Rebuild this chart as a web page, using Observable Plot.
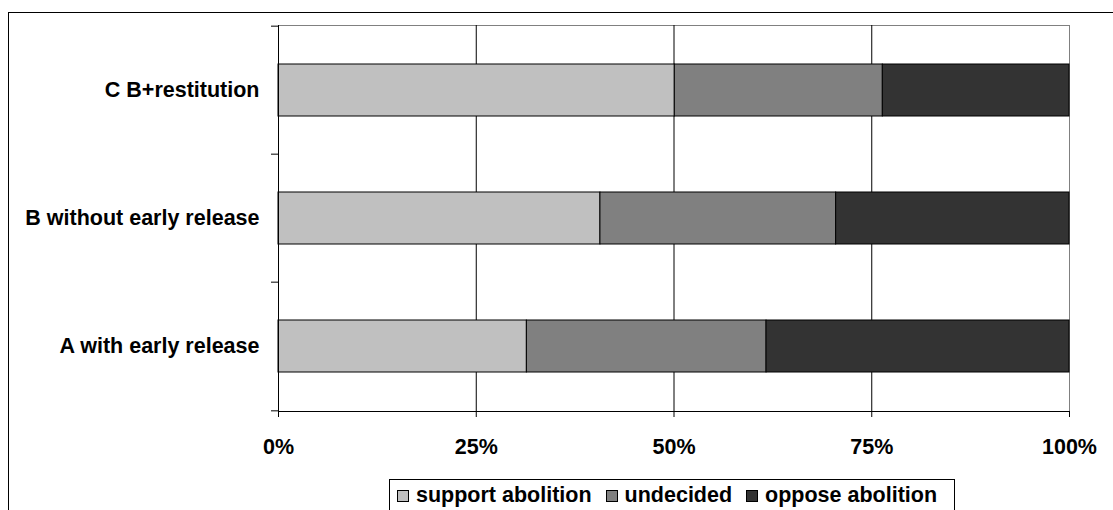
<!DOCTYPE html>
<html>
<head>
<meta charset="utf-8">
<script src="https://cdn.jsdelivr.net/npm/d3@7"></script>
<script src="https://cdn.jsdelivr.net/npm/@observablehq/plot@0.6"></script>
<style>
  html, body { margin: 0; padding: 0; background: #fff; }
  #stage {
    position: relative; width: 1113px; height: 510px; overflow: hidden;
    font-family: "Liberation Sans", Arial, sans-serif; font-weight: bold; color: #000;
  }
  #border {
    position: absolute; left: 8px; top: 12px; width: 1300px; height: 700px;
    border: 1px solid #000; box-sizing: border-box;
  }
  #chart { position: absolute; left: 0; top: 0; }
  #legend {
    position: absolute; left: 389px; top: 479px; width: 566px; height: 32px;
    border: 1px solid #000; box-sizing: border-box; background: #fff;
    display: flex; align-items: flex-start;
    padding: 3px 0 0 7px; font-size: 21.5px; line-height: 24px;
  }
  .item { display: flex; align-items: center; margin-right: 14px; white-space: nowrap; }
  .swatch {
    width: 12px; height: 12px; box-sizing: border-box; border: 1px solid #000;
    margin-right: 7px; position: relative; top: 1px;
  }
</style>
</head>
<body>
<div id="stage">
  <div id="border"></div>
  <div id="chart"></div>
  <div id="legend"></div>
</div>
<script>
// Survey options (top to bottom as drawn)
const categories = ["C B+restitution", "B without early release", "A with early release"];

// Response groups, left to right within each bar
const series = ["support abolition", "undecided", "oppose abolition"];
const seriesColors = ["#c0c0c0", "#808080", "#333333"];

// Share of respondents (%) per option
const support = [50.1, 40.7, 31.4];
const undecided = [26.3, 29.8, 30.3];
const oppose = [23.6, 29.5, 38.3];

const xTicks = [0, 25, 50, 75, 100];

const valuesBySeries = [support, undecided, oppose];
const rows = [];
categories.forEach((c, i) => {
  series.forEach((s, j) => rows.push({category: c, series: s, value: valuesBySeries[j][i]}));
});

const width = 1113, height = 510;
const margin = {top: 25, right: 44, bottom: 99, left: 278};
const step = (height - margin.top - margin.bottom) / categories.length;

const chart = Plot.plot({
  width, height,
  marginTop: margin.top, marginRight: margin.right,
  marginBottom: margin.bottom, marginLeft: margin.left,
  style: {
    fontFamily: "'Liberation Sans', Arial, sans-serif",
    fontSize: "21.5px", fontWeight: "bold", color: "#000",
    background: "transparent", overflow: "visible"
  },
  x: {domain: [0, 100], ticks: xTicks, tickFormat: d => d + "%"},
  y: {domain: categories, paddingInner: 0.59, paddingOuter: 0.295},
  color: {domain: series, range: seriesColors},
  marks: [
    Plot.frame({stroke: "#808080"}),
    Plot.ruleX(xTicks.filter(t => t > 0 && t < 100), {stroke: "#000"}),
    Plot.barX(rows, Plot.stackX({
      x: "value", y: "category", fill: "series", order: series,
      stroke: "#000", strokeWidth: 1
    })),
    Plot.frame({anchor: "left", stroke: "#000"}),
    Plot.frame({anchor: "bottom", stroke: "#000"}),
    Plot.axisX({ticks: xTicks, tickFormat: d => d + "%", tickSize: 6, tickPadding: 21, stroke: "#000", strokeOpacity: 1, label: null}),
    // category labels centred on each band
    Plot.axisY({tickSize: 0, tickPadding: 19, label: null}),
    // category divider ticks on the band edges
    Plot.axisY({tickSize: 7, tickFormat: null, label: null, dy: -step / 2, stroke: "#000", strokeOpacity: 1}),
    Plot.axisY({ticks: [categories[categories.length - 1]], tickSize: 7, tickFormat: null, label: null, dy: step / 2, stroke: "#000", strokeOpacity: 1})
  ]
});
document.getElementById("chart").appendChild(chart);

// Legend
const legend = d3.select("#legend");
series.forEach((s, i) => {
  const item = legend.append("div").attr("class", "item");
  item.append("div").attr("class", "swatch").style("background", seriesColors[i]);
  item.append("span").text(s);
});
</script>
</body>
</html>
